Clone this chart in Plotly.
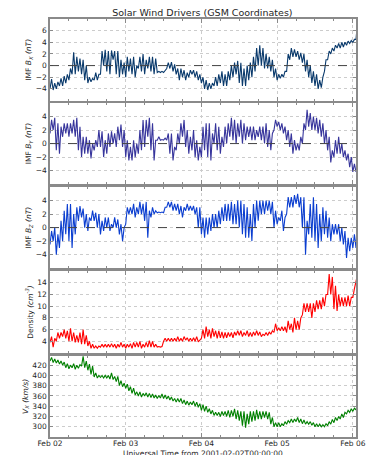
import plotly.graph_objects as go
from plotly.subplots import make_subplots
import pandas as pd

# Hourly min / max envelopes, hours 0..97 from 2001-02-02T00:00
hours = list(range(98))

bx_lo = [-4, -4.2, -4, -3.5, -3.5, -3, -2.5, -1.5, -1.5, -1, -1.5, -2.5, -3, -2.8, -2.5, -2.5, -1.5, 0, -1, -1.5, 1, -1.5, -2, -1.5,
         -2, -1, -1.5, -2, -0.5, -1, -1.5, -0.5, -1, -1.5, -1.2, -1.2, -1.2, -0.5, -0.5, -1, -1.5, -2.5, -2, -2.5, -2, -1.5, -2, -2.5,
         -3, -4, -4.2, -4, -3.5, -3.5, -3, -3.5, -3.5, -2.5, -2, -1.5, -3, -3.5, -3.5, -2.5, -2, -1, 0, 0, -0.5, -0.5, -1, -2,
         -2.5, -2.2, -2, -1, 1, 1.5, 1.5, 1, 0.5, -1, -2, -3, -3.5, -4, -3.8, -1, 1, 2, 2.5, 3, 3, 3.2, 3.5, 3.8, 4, 4.5]
bx_hi = [-2.3, -3, -2.8, -2.2, -1.8, -1.5, -0.5, 2.3, 1.5, 1.2, 1, 0, -2, -2.2, -1.2, -1.5, 2.5, 2.7, 2.5, 2.6, 2.5, 2.5, 1, 0.5,
         1.5, 1.2, 1.5, 0, 1.5, 2, 1, 1.5, 1.5, 1.2, -1, -1, -0.8, 0.5, 0.6, 0.2, -0.5, -0.5, -0.8, -1.2, -0.8, -0.8, -1, -1.5,
         -2, -2.5, -3, -3, -2, -1.5, -1, -1.5, -1, 0, 0.5, 0.8, 0.5, -0.5, 0, 0.5, 1.5, 3, 3.5, 3, 2, 1.5, 1, -0.5,
         -1.5, -1.5, -1, 2, 3, 2.8, 2.5, 2.2, 2, 1, 0, -1, -1.5, -2.5, -2, 1, 2.5, 3, 3.5, 3.8, 4, 4, 4.2, 4.3, 4.5, 7.5]

by_lo = [1.5, 2, -1, -1.5, 1, 1.5, 1, 1.5, 1, -1, -2, -1.5, -1.5, -2.2, -1, -0.5, -0.5, -2, -1.5, -0.5, 0, -0.5, 0.5, -0.5,
         -2, -2.5, -2.5, -2, -1.5, -1, -0.5, 1, -1, -2.5, 0.5, 0.5, 0.5, 0.5, -1.5, -2.5, -1, 0, 1, -0.5, -1.5, -1, -2, -2.5,
         -2, -1, -2, -2.5, 0, -1, -1.5, -0.5, 0, 1, 0.5, 0, 1, 0, 0.5, 1, 0.5, 0.5, 1, 0.5, 0, -0.5, -1, 2,
         2.5, 2, 1.5, 0.5, -0.5, -1.5, -1, -1, 0, 2, 2.5, 2, 2, 1.5, 1, 0, -1, -2.8, -2, -1.5, -1.5, -2, -2.5, -3.5, -4.2, -4.2]
by_hi = [3.5, 3.8, 3, 2.5, 3, 3, 3, 3.5, 3.8, 2.5, 1, 1, 0.5, 0, 0.5, 2, 1.8, 0.5, 1.5, 1.8, 1.5, 2.5, 2.8, 2,
         0.5, -0.5, 0.5, 0, 2, 3.5, 3.5, 3.8, 3, 0.5, 1, 0.6, 0.8, 1.5, 1.5, -0.5, 1.5, 3, 3.5, 2, 1, 2, 0.5, -0.5,
         2.5, 3, 3, 1.5, 3, 2.5, 1, 2.5, 3, 3.8, 3.5, 3, 3.5, 3, 2.5, 2.5, 2.5, 2, 2.5, 2.5, 3, 2, 1.5, 3.5,
         3.2, 3, 2.5, 2, 1.5, 0.5, 0, 1, 3, 5, 4.5, 4, 3.8, 3.5, 3, 2, 1, -1, 0.5, 1, 0, -1, -1.5, -2, -3, -3.5]

bz_lo = [-2.5, -2, -4, -3, -2, -1, -2, -3, -1, 1, 1.5, 0, -0.5, 1, 1, 0, -1, -0.5, 0, -0.5, 0, 0, -1, -2,
         0.5, 2, 2, 1.5, 2, 2, 1, -1.5, 1.5, 2, 2.2, 2.2, 2.2, 3, 3, 2.5, 2.5, 2, 1.5, 2.5, 2.5, 2.5, 2, 0,
         -1, -1.5, -1, -0.5, 0, 0, 0.5, 1, 1, 1, 0.5, 0.5, 0, -1, -1.5, -1.5, -2, 0, 1, 2, 2, 2.5, 2, 0,
         0.5, 1, -0.5, 2, 3, 3, 3.5, 3, 0, -4, -1, -1.5, -2, -3, -2, -1, -1.5, -2, -1, -1, -2, -2.5, -4.5, -3.5, -3, -3]
bz_hi = [-0.5, 0, -1, 1, 2.5, 3.5, 3.5, 2, 3, 3.2, 2.8, 2, 1.5, 2.5, 2.2, 2, 1, 1.5, 1.5, 0.5, 1.5, 1.2, 0.5, 0,
         3, 3, 3.5, 3, 3.8, 3.5, 3.8, 2.5, 3, 2.5, 2.3, 2.3, 3, 3.8, 3.8, 3.5, 3.5, 3.2, 3, 3.5, 3.2, 3.2, 3, 3,
         1.5, 1.5, 1.5, 2, 2, 2.5, 3, 3.5, 3.5, 3.8, 3.5, 4, 4, 3.5, 3, 2, 3.5, 4, 4, 4, 4, 4, 3.8, 2.5,
         1.5, 2.5, 1.5, 4.5, 4.5, 4.8, 5, 4.5, 4.5, 1, 3.5, 4.5, 3.5, 2, 3, 2.5, 1.5, 0.5, 0.5, 0.5, 0, -0.5, -1.5, -1.5, -1, 1]

n_lo = [3.8, 3, 4, 4.5, 4.8, 4.5, 4, 4, 3.8, 3.8, 3.5, 3.5, 3.2, 2.8, 2.8, 2.8, 3, 3, 3, 3, 3, 2.8, 3, 3,
        2.8, 3, 2.8, 3, 3, 2.8, 3, 3, 3, 3, 3, 3, 4, 4, 4, 4, 4, 4, 4, 4.2, 4, 4, 4, 3.9,
        4.5, 4.5, 4.8, 4.5, 4.8, 4.5, 4.6, 4.5, 4.6, 4.8, 4.6, 5, 5, 4.8, 5, 4.8, 4.8, 5, 5, 4.8, 5, 5, 5.2, 5.5,
        5.8, 5.8, 5.8, 5.5, 6, 5.5, 6, 6, 8.5, 9, 9, 8, 9, 9.5, 9.5, 10, 12, 12, 9.5, 9.2, 10, 10, 10, 10, 11.5, 14]
n_hi = [4.8, 4.5, 5.5, 5.5, 6, 5.8, 6.2, 5.5, 5, 5.5, 6, 5, 4, 3.5, 3.2, 3.2, 3.5, 3.5, 3.5, 3.6, 3.5, 3.5, 3.8, 3.5,
        3.5, 3.6, 3.8, 3.8, 4, 3.5, 3.8, 4.1, 4, 3.5, 3.1, 3.1, 4.5, 4.5, 4.5, 4.5, 4.8, 4.5, 4.8, 4.6, 4.5, 4.6, 4.8, 4.2,
        6, 6.5, 6, 6.2, 5.8, 5.8, 5.6, 5.5, 5.5, 5.5, 5.6, 5.8, 5.8, 5.5, 5.8, 5.5, 5.6, 5.8, 5.6, 5.2, 5.5, 5.6, 5.8, 7,
        6.3, 6.5, 6.5, 7.5, 7, 8, 7.5, 8, 10.5, 10.5, 10.5, 10.5, 11, 11, 11.5, 12, 15.5, 15, 13.5, 12, 11.5, 11.5, 11.8, 11.5, 13, 15.5]

vx_lo = [428, 425, 424, 422, 420, 415, 413, 415, 412, 414, 418, 415, 410, 402, 397, 395, 396, 395, 395, 393, 392, 388, 380, 378,
         375, 370, 365, 362, 360, 358, 360, 358, 357, 356, 355, 356, 355, 354, 352, 350, 348, 348, 345, 343, 342, 343, 340, 338,
         332, 330, 328, 325, 322, 322, 320, 322, 320, 318, 320, 315, 312, 302, 298, 305, 310, 312, 315, 315, 318, 315, 305, 300,
         300, 300, 302, 305, 308, 308, 310, 308, 306, 305, 305, 303, 300, 300, 300, 300, 302, 305, 308, 312, 315, 318, 325, 328, 330, 333]
vx_hi = [435, 432, 430, 428, 426, 423, 420, 423, 420, 421, 437, 428, 422, 418, 405, 400, 400, 400, 400, 405, 398, 398, 390, 385,
         383, 378, 375, 368, 368, 365, 366, 365, 364, 362, 361, 364, 362, 360, 358, 355, 355, 355, 352, 350, 348, 350, 348, 345,
         343, 340, 335, 332, 328, 328, 330, 330, 332, 332, 335, 332, 330, 330, 325, 330, 330, 333, 330, 330, 330, 328, 318, 308,
         308, 306, 310, 312, 315, 315, 318, 315, 313, 310, 310, 308, 306, 305, 304, 306, 310, 314, 318, 320, 325, 328, 332, 335, 336, 340]

start = pd.Timestamp("2001-02-02 00:00:00")


def zigzag(lo, hi):
    t, v = [], []
    for h, a, b in zip(hours, lo, hi):
        t.append(start + pd.Timedelta(hours=h))
        v.append(a)
        t.append(start + pd.Timedelta(minutes=60 * h + 30))
        v.append(b)
    return t, v


series = [
    (bx_lo, bx_hi, "#0a3a6c"),
    (by_lo, by_hi, "#37359c"),
    (bz_lo, bz_hi, "#0b3ed0"),
    (n_lo, n_hi, "#ff0000"),
    (vx_lo, vx_hi, "#008000"),
]

fig = make_subplots(rows=5, cols=1, shared_xaxes=True, vertical_spacing=0.006)

for i, (lo, hi, col) in enumerate(series, start=1):
    t, v = zigzag(lo, hi)
    fig.add_trace(go.Scatter(x=t, y=v, mode="lines", line=dict(color=col, width=1.1),
                             showlegend=False, hoverinfo="skip"), row=i, col=1)

domains = [[0.805, 1.0], [0.605, 0.799], [0.404, 0.598], [0.201, 0.397], [0.0, 0.194]]
ranges = [[-6, 8], [-6, 6], [-6, 6], [2, 16], [280, 438]]
tickvals = [[-4, -2, 0, 2, 4, 6], [-4, -2, 0, 2, 4], [-4, -2, 0, 2, 4],
            [4, 6, 8, 10, 12, 14], [300, 320, 340, 360, 380, 400, 420]]
titles = ["IMF <i>B<sub>X</sub> (nT)</i>", "IMF <i>B<sub>Y</sub> (nT)</i>", "IMF <i>B<sub>Z</sub> (nT)</i>",
          "Density <i>(cm<sup>-3</sup>)</i>", "<i>V<sub>X</sub> (km/s)</i>"]

frame = "#8a8a8a"
grid = "#cccccc"
txt = "#262626"

for i in range(5):
    yk = "yaxis" if i == 0 else f"yaxis{i+1}"
    xk = "xaxis" if i == 0 else f"xaxis{i+1}"
    fig.layout[yk].update(domain=domains[i], range=ranges[i], tickvals=tickvals[i],
                          showline=True, linecolor=frame, linewidth=1.6, mirror="allticks",
                          ticks="inside", ticklen=3, tickcolor=frame,
                          showgrid=True, gridcolor=grid, griddash="dot", gridwidth=1,
                          zeroline=False, tickfont=dict(size=7.5, color=txt), automargin="left",
                          title=dict(text=titles[i], font=dict(size=7.5, color=txt), standoff=3))
    fig.layout[xk].update(range=["2001-02-02 00:00:00", "2001-02-06 01:00:00"],
                          type="date", dtick=86400000, tick0="2001-02-02",
                          tickformat="%b %d", showline=True, linecolor=frame, linewidth=1.6,
                          mirror="allticks", ticks="inside", ticklen=4, tickcolor=frame,
                          minor=dict(dtick=21600000, ticks="inside", ticklen=2, tickcolor=frame, showgrid=False),
                          showgrid=True, gridcolor=grid, griddash="dot", gridwidth=1,
                          zeroline=False, tickfont=dict(size=7.5, color=txt), automargin=False,
                          ticklabelstandoff=-2, showticklabels=(i == 4))
    if i < 3:
        fig.add_hline(y=0, line=dict(color="#444444", width=1, dash="dash"), row=i + 1, col=1)

fig.add_annotation(text="Universal Time from 2001-02-02T00:00:00", xref="paper", yref="paper",
                   x=0.5, y=0, xanchor="center", yanchor="top", yshift=-10, showarrow=False,
                   font=dict(size=7.5, color=txt))

fig.update_layout(
    width=366, height=455,
    margin=dict(l=50, r=10, t=19, b=18),
    paper_bgcolor="white", plot_bgcolor="white",
    font=dict(family="DejaVu Sans", color=txt),
    title=dict(text="Solar Wind Drivers (GSM Coordinates)", x=0.553, xanchor="center",
               y=1 - 13 / 455, yanchor="middle", yref="container", font=dict(size=9.5, color=txt)),
)

fig.write_html("out.html", config={"displayModeBar": False},
               post_script="document.body.style.margin='0';document.body.style.overflow='hidden';")
